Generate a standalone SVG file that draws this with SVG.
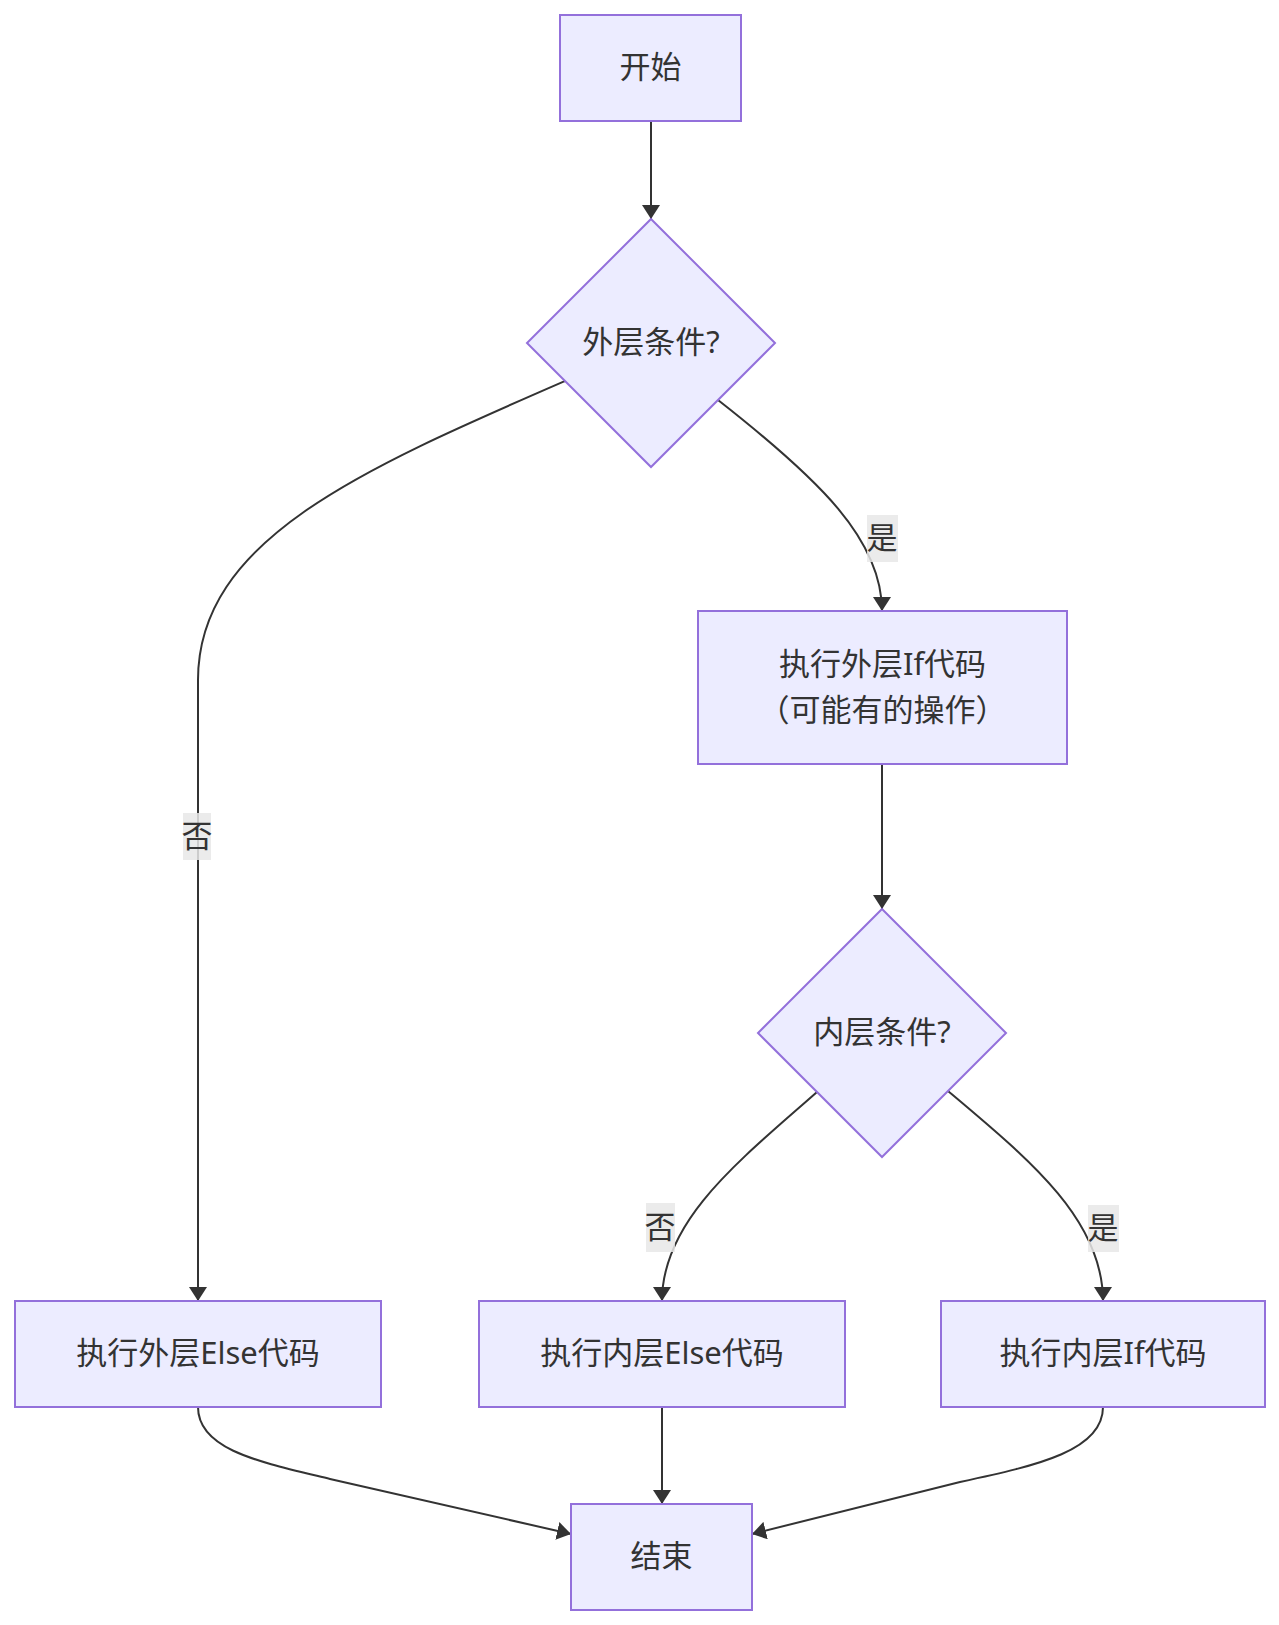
<svg xmlns="http://www.w3.org/2000/svg" width="1279" height="1625" viewBox="0 0 1279 1625">
<style>
.node rect, .node polygon { fill: #ECECFF; stroke: #9370DB; stroke-width: 2; }
.lbl { font-family: "Noto Sans", "Noto Sans CJK SC", sans-serif; font-size: 31px; fill: #333; text-anchor: middle; dominant-baseline: central; }
.edge { fill: none; stroke: #333; stroke-width: 2; }
.ebg { fill: #e8e8e8; opacity: 0.85; }
</style>
<defs>
<marker id="arrow" markerUnits="userSpaceOnUse" markerWidth="14" markerHeight="18" viewBox="0 0 14 18" refX="14" refY="9" orient="auto">
<path d="M0,0 L14,9 L0,18 z" fill="#333"/>
</marker>
</defs>
<rect width="1279" height="1625" fill="#ffffff"/>
<g id="connectors">
<path class="edge" d="M651,121 L651,219" marker-end="url(#arrow)"/>
<path class="edge" d="M565,381 C360,470 198,540 198,680 L198,1301" marker-end="url(#arrow)"/>
<path class="edge" d="M718,400 C820,480 882,540 882,611" marker-end="url(#arrow)"/>
<path class="edge" d="M882,764 L882,909" marker-end="url(#arrow)"/>
<path class="edge" d="M817,1092 C740,1160 662,1220 662,1301" marker-end="url(#arrow)"/>
<path class="edge" d="M948,1091 C1030,1160 1103,1220 1103,1301" marker-end="url(#arrow)"/>
<path class="edge" d="M662,1407 L662,1504" marker-end="url(#arrow)"/>
<path class="edge" d="M198,1407 C198,1450 260,1462 330,1479 L571,1534" marker-end="url(#arrow)"/>
<path class="edge" d="M1103,1407 C1103,1450 1040,1465 960,1482 L752,1534" marker-end="url(#arrow)"/>
<g id="edge-labels">
<rect class="ebg" x="183" y="813" width="28" height="47"/>
<text class="lbl" x="197" y="835">否</text>
<rect class="ebg" x="867" y="515" width="31" height="47"/>
<text class="lbl" x="882" y="537">是</text>
<rect class="ebg" x="646" y="1203" width="29" height="49"/>
<text class="lbl" x="660" y="1226">否</text>
<rect class="ebg" x="1088" y="1205" width="31" height="47"/>
<text class="lbl" x="1103" y="1227">是</text>
</g>
</g>
<g id="start" class="node">
<rect x="560" y="15" width="181" height="106"/>
<text class="lbl" x="650.5" y="66">开始</text>
</g>
<g id="outer-cond" class="node">
<polygon points="651,219 775,343 651,467 527,343"/>
<text class="lbl" x="651" y="341">外层条件?</text>
</g>
<g id="outer-if" class="node">
<rect x="698" y="611" width="369" height="153"/>
<text class="lbl" x="882.5" y="663">执行外层If代码</text>
<text class="lbl" x="882.5" y="709">（可能有的操作）</text>
</g>
<g id="inner-cond" class="node">
<polygon points="882,909 1006,1033 882,1157 758,1033"/>
<text class="lbl" x="882" y="1031">内层条件?</text>
</g>
<g id="outer-else" class="node">
<rect x="15" y="1301" width="366" height="106"/>
<text class="lbl" x="198" y="1352">执行外层Else代码</text>
</g>
<g id="inner-else" class="node">
<rect x="479" y="1301" width="366" height="106"/>
<text class="lbl" x="662" y="1352">执行内层Else代码</text>
</g>
<g id="inner-if" class="node">
<rect x="941" y="1301" width="324" height="106"/>
<text class="lbl" x="1103" y="1352">执行内层If代码</text>
</g>
<g id="end" class="node">
<rect x="571" y="1504" width="181" height="106"/>
<text class="lbl" x="661.5" y="1555">结束</text>
</g>
</svg>
